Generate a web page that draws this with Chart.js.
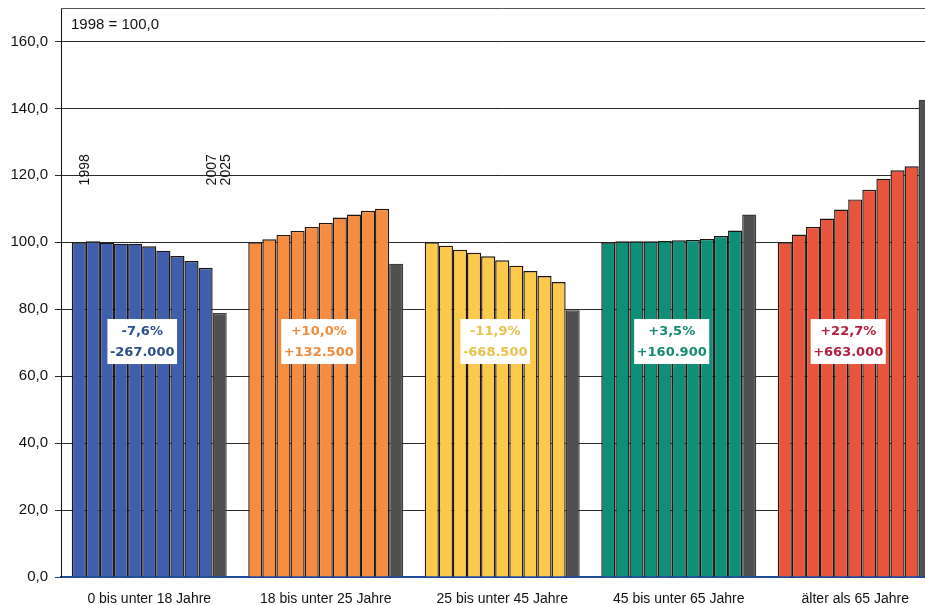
<!DOCTYPE html>
<html>
<head>
<meta charset="utf-8">
<script src="https://cdn.jsdelivr.net/npm/chart.js@4"></script>
<style>
  html, body { margin: 0; padding: 0; background: #fff; overflow: hidden; }
  #wrap { width: 945px; height: 605px; }
</style>
</head>
<body>
<div id="wrap"><canvas id="chart" width="945" height="605"></canvas></div>
<script>
// Age groups (x categories) and years (one dataset per year)
const groups = ['0 bis unter 18 Jahre', '18 bis unter 25 Jahre', '25 bis unter 45 Jahre', '45 bis unter 65 Jahre', 'älter als 65 Jahre'];
const years = ['1998', '1999', '2000', '2001', '2002', '2003', '2004', '2005', '2006', '2007', '2025'];

// Index values, 1998 = 100 (last value = 2025)
const under18 = [100.0, 100.3, 99.9, 99.6, 99.6, 98.8, 97.5, 95.9, 94.4, 92.4, 78.9];
const from18to25 = [100.0, 100.9, 102.2, 103.4, 104.6, 105.8, 107.4, 108.3, 109.4, 110.0, 93.6];
const from25to45 = [100.0, 99.0, 97.8, 96.9, 95.8, 94.6, 93.0, 91.4, 89.9, 88.1, 79.7];
const from45to65 = [100.0, 100.3, 100.3, 100.3, 100.4, 100.6, 100.7, 101.0, 101.9, 103.5, 108.3];
const over65 = [100.0, 102.3, 104.6, 107.1, 109.8, 112.8, 115.7, 119.0, 121.5, 122.7, 142.6];

// Change 1998-2007
const pctChange = ['-7,6%', '+10,0%', '-11,9%', '+3,5%', '+22,7%'];
const absChange = ['-267.000', '+132.500', '-668.500', '+160.900', '+663.000'];

const yTicks = [0, 20, 40, 60, 80, 100, 120, 140, 160];

const groupColors = ['#3f5eac', '#f68c40', '#fdc94a', '#0e8f78', '#e9553c'];
const textColors = ['#2a4f8a', '#f08a3c', '#e9c24e', '#158a72', '#b3203c'];
const darkColor = '#505050';

const series = [under18, from18to25, from25to45, from45to65, over65];
const lastIdx = years.length - 1;

const datasets = years.map((yr, i) => ({
    label: yr,
    data: series.map(s => s[i]),
    backgroundColor: i === lastIdx ? darkColor : groupColors,
    borderColor: i === lastIdx ? '#3a3a3a' : '#1e1410',
    borderWidth: 1.4,
    barPercentage: 1,
    categoryPercentage: 0.878
}));

// Text overlays: index note, year markers, change boxes, top frame
const overlay = {
    id: 'overlay',
    afterDatasetsDraw(chart) {
        const c = chart.ctx;
        const area = chart.chartArea;
        const y = chart.scales.y;

        c.save();
        // top frame line
        c.strokeStyle = '#555';
        c.lineWidth = 1;
        c.beginPath();
        c.moveTo(area.left, area.top + 0.5);
        c.lineTo(area.right, area.top + 0.5);
        c.stroke();

        c.fillStyle = '#111';
        c.font = '15px "Liberation Sans"';
        c.textBaseline = 'middle';
        c.textAlign = 'left';
        c.fillText('1998 = 100,0', area.left + 10, area.top + 17);

        // year markers above first group
        c.font = '14px "Liberation Sans"';
        [0, 9, lastIdx].forEach(di => {
            const bar = chart.getDatasetMeta(di).data[0];
            c.save();
            c.translate(bar.x + bar.width / 2 - 1, y.getPixelForValue(117));
            c.rotate(-Math.PI / 2);
            c.fillText(years[di], 0, 0);
            c.restore();
        });

        // change boxes
        c.font = 'bold 13px "DejaVu Sans"';
        c.textAlign = 'center';
        const cy = y.getPixelForValue(70.5);
        groups.forEach((g, i) => {
            const first = chart.getDatasetMeta(0).data[i];
            const tenth = chart.getDatasetMeta(9).data[i];
            const cx = (first.x + tenth.x) / 2;
            const w = Math.max(c.measureText(pctChange[i]).width, c.measureText(absChange[i]).width) + 5;
            c.fillStyle = '#fff';
            c.fillRect(cx - w / 2, cy - 22, w, 45);
            c.fillStyle = textColors[i];
            c.fillText(pctChange[i], cx, cy - 9);
            c.fillText(absChange[i], cx, cy + 12);
        });
        c.restore();
    }
};

new Chart(document.getElementById('chart'), {
    type: 'bar',
    data: { labels: groups, datasets: datasets },
    options: {
        responsive: false,
        animation: false,
        layout: { padding: { top: 8, right: 1.5, left: 0, bottom: 0 } },
        plugins: {
            legend: { display: false },
            tooltip: { enabled: false }
        },
        scales: {
            x: {
                grid: { display: false },
                border: { display: true, color: '#1f4e9c', width: 2 },
                ticks: {
                    color: '#111',
                    padding: 6,
                    maxRotation: 0,
                    font: { family: 'Liberation Sans', size: 14 }
                },
                afterFit(scale) {
                    scale.height = 28;
                    scale.paddingLeft = 0;
                    scale.paddingRight = 0;
                }
            },
            y: {
                min: 0,
                max: 170,
                afterBuildTicks(scale) {
                    scale.ticks = yTicks.map(v => ({ value: v }));
                },
                grid: {
                    color: ctx => ctx.tick && ctx.tick.value === 0 ? '#1f4e9c' : '#2a2a2a',
                    lineWidth: 1,
                    tickLength: 6
                },
                border: { display: true, color: '#111', width: 1 },
                ticks: {
                    color: '#111',
                    padding: 7,
                    font: { family: 'Liberation Sans', size: 15 },
                    callback: v => v.toFixed(1).replace('.', ',')
                },
                afterFit(scale) {
                    scale.width = 61;
                    scale.paddingTop = 0;
                    scale.paddingBottom = 0;
                }
            }
        }
    },
    plugins: [overlay]
});
</script>
</body>
</html>
